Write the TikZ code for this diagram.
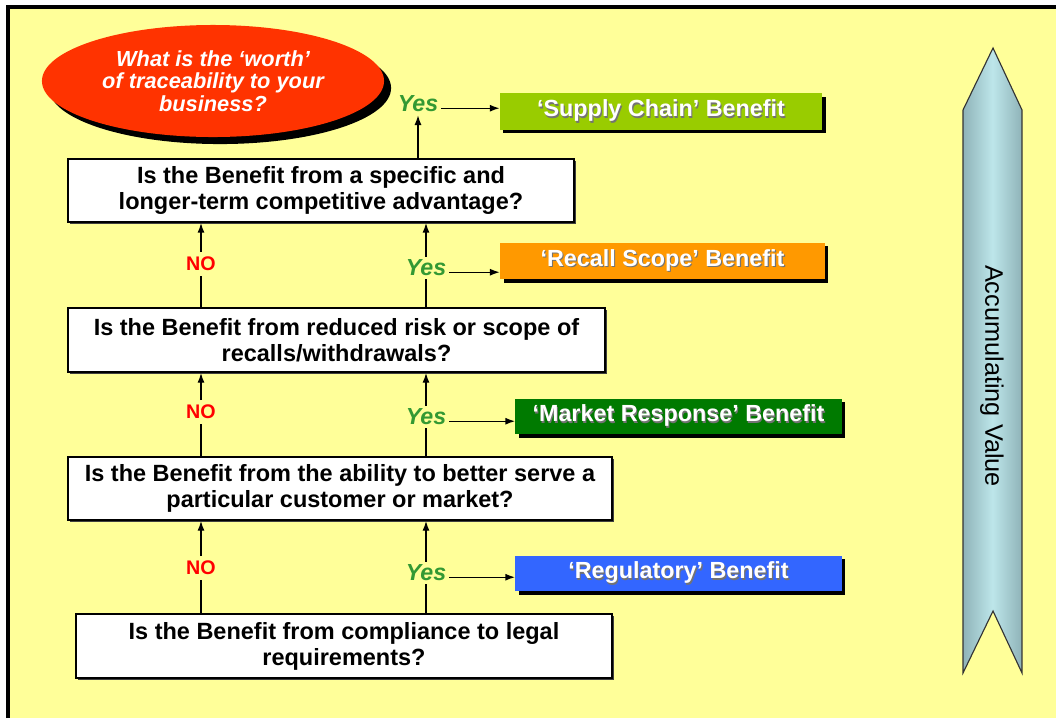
\documentclass[tikz,border=0pt]{standalone}
\usepackage{fontspec}
\setmainfont{Liberation Sans}
\usetikzlibrary{positioning,
                arrows.meta,                % arrow tips
                shapes.geometric,           % ellipse
                shadows}                    % drop shadows

\definecolor{paper}{HTML}{FFFF99}
\definecolor{worthred}{HTML}{FF3300}
\definecolor{supplygreen}{HTML}{99CC00}
\definecolor{recallorange}{HTML}{FF9900}
\definecolor{marketgreen}{HTML}{007A00}
\definecolor{regblue}{HTML}{3366FF}
\definecolor{yesgreen}{HTML}{339933}
\definecolor{nored}{HTML}{FF0000}
\definecolor{bandmid}{HTML}{BDE6EA}
\definecolor{bandedge}{HTML}{8FB3B8}

\newcommand{\shadowtext}[1]{\makebox[0pt][l]{\kern0.8pt\raisebox{-0.8pt}{\textcolor{black!55}{#1}}}#1}

\tikzset{
  question/.style={draw=black, line width=1.2pt, fill=white, align=center,
                   font=\bfseries\fontsize{16.7}{18.5}\selectfont,
                   drop shadow={shadow xshift=1.5pt, shadow yshift=-1.5pt, fill=black!75, opacity=1}},
  benefit/.style={fill=#1, text=white, minimum width=8.15cm, minimum height=0.92cm,
                  font=\bfseries\fontsize{16.6}{18}\selectfont,
                  drop shadow={shadow xshift=2.5pt, shadow yshift=-2.5pt, fill=black, opacity=1}},
  nolabel/.style={text=nored, font=\bfseries\fontsize{14}{14}\selectfont},
  yeslabel/.style={text=yesgreen, font=\bfseries\itshape\fontsize{16.5}{16.5}\selectfont, inner sep=2pt},
  flow/.style={-{Latex[length=7pt,width=5pt]}, line width=1pt},
  link/.style={line width=1pt}
}

\begin{document}
\begin{tikzpicture}[x=0.025cm, y=-0.025cm]
  \useasboundingbox (0,0) rectangle (1056,718);
  \fill[white] (0,0) rectangle (1056,718);
  \fill[paper] (8,7) rectangle (1056,718);
  \draw[line width=0.1cm] (8,718) -- (8,7) -- (1056,7);

  % accumulating value band
  \path[draw=black!80, line width=0.8pt, left color=bandedge, right color=bandedge, middle color=bandmid]
    (963,110) -- (993,48) -- (1022,110) -- (1022,673) -- (993,611) -- (963,673) -- cycle;
  \node[rotate=-90, font=\fontsize{18}{20}\selectfont, text=black] (accum) at (992,376) {Accumulating Value};

  \node[ellipse, fill=worthred, minimum width=8.55cm, minimum height=2.8cm, text=white, align=center,
        font=\bfseries\itshape\fontsize{15.5}{16}\selectfont,
        drop shadow={shadow xshift=5pt, shadow yshift=-5pt, fill=black, opacity=1}]
        (worth) at (213,81) {What is the ‘worth’\\of traceability to your\\business?};

  % questions
  \node[question, minimum width=12.65cm, minimum height=1.575cm] (qcomp) at (321,190.5)
        {Is the Benefit from a specific and\\longer-term competitive advantage?};
  \node[question, minimum width=13.42cm, minimum height=1.6cm] (qrecall) at (336.5,340)
        {Is the Benefit from reduced risk or scope of\\recalls/withdrawals?};
  \node[question, minimum width=13.6cm, minimum height=1.575cm] (qmarket) at (340,488.5)
        {Is the Benefit from the ability to better serve a\\particular customer or market?};
  \node[question, minimum width=13.4cm, minimum height=1.6cm] (qlegal) at (344,646)
        {Is the Benefit from compliance to legal\\requirements?};

  % benefits
  \node[benefit=supplygreen, minimum width=8.05cm] (supply) at (661,111.5) {\shadowtext{‘Supply Chain’ Benefit}};
  \node[benefit=recallorange, minimum width=8.12cm] (recall) at (662.5,261) {\shadowtext{‘Recall Scope’ Benefit}};
  \node[benefit=marketgreen, minimum height=0.88cm] (market) at (678.5,416.5) {\shadowtext{‘Market Response’ Benefit}};
  \node[benefit=regblue, minimum height=0.88cm] (regulatory) at (678.5,573.5) {\shadowtext{‘Regulatory’ Benefit}};

  % labels
  \node[yeslabel] (yes1) at (418,104) {Yes};
  \node[yeslabel] (yes2) at (426,268) {Yes};
  \node[yeslabel] (yes3) at (426,417) {Yes};
  \node[yeslabel] (yes4) at (426,573) {Yes};
  \node[nolabel] (no2) at (201,264) {NO};
  \node[nolabel] (no3) at (201,412) {NO};
  \node[nolabel] (no4) at (201,568) {NO};

  % yes branch
  \draw[flow] (qcomp.north -| yes1) -- (yes1.south);
  \draw[flow] ([yshift=-3pt]yes1.east) -- ([yshift=-3pt]yes1.east -| supply.west);
  \draw[link] (qrecall.north -| yes2) -- (yes2.south);
  \draw[flow] (yes2.north) -- (yes2.north |- qcomp.south);
  \draw[flow] ([yshift=-3pt]yes2.east) -- ([yshift=-3pt]yes2.east -| recall.west);
  \draw[link] (qmarket.north -| yes3) -- (yes3.south);
  \draw[flow] (yes3.north) -- (yes3.north |- qrecall.south);
  \draw[flow] ([yshift=-3pt]yes3.east) -- ([yshift=-3pt]yes3.east -| market.west);
  \draw[link] (qlegal.north -| yes4) -- (yes4.south);
  \draw[flow] (yes4.north) -- (yes4.north |- qmarket.south);
  \draw[flow] ([yshift=-3pt]yes4.east) -- ([yshift=-3pt]yes4.east -| regulatory.west);

  % no branch
  \draw[link] (qrecall.north -| no2) -- (no2.south);
  \draw[flow] (no2.north) -- (no2.north |- qcomp.south);
  \draw[link] (qmarket.north -| no3) -- (no3.south);
  \draw[flow] (no3.north) -- (no3.north |- qrecall.south);
  \draw[link] (qlegal.north -| no4) -- (no4.south);
  \draw[flow] (no4.north) -- (no4.north |- qmarket.south);
\end{tikzpicture}
\end{document}
